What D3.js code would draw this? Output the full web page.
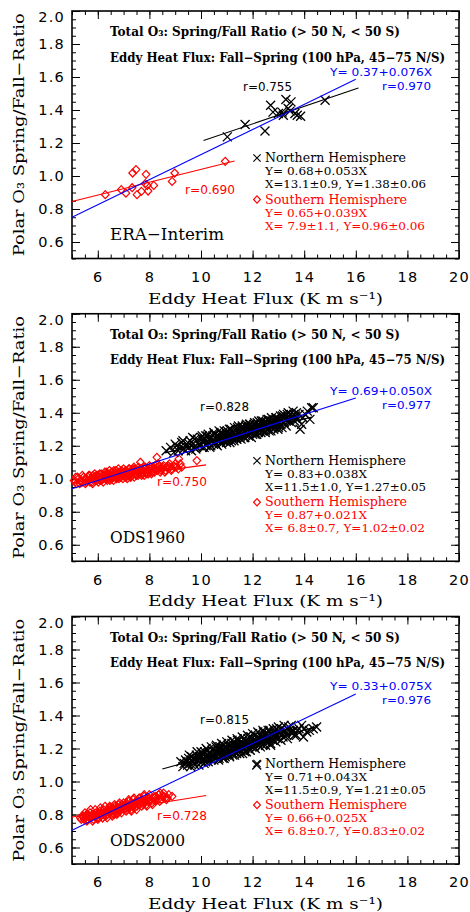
<!DOCTYPE html>
<html>
<head>
<meta charset="utf-8">
<script src="https://cdn.jsdelivr.net/npm/d3@7"></script>
<style>
  body { margin: 0; background: #fff; }
  svg { display: block; }
</style>
</head>
<body>
<div id="container"></div>
<script>
/* CONSTANTS AND GLOBALS */
const width = 470,
  height = 912,
  margin = { left: 72, right: 11 },
  panelTop = [11, 313.75, 616.5],
  panelHeight = 247.5;
const blue = "#0000ff", red = "#ff0000";
const serif = "DejaVu Serif", sans = "DejaVu Sans";

/* DATA */
const xTicks = [6, 8, 10, 12, 14, 16, 18, 20];
const yTicks = [0.6, 0.8, 1.0, 1.2, 1.4, 1.6, 1.8, 2.0];
const xDomain = [5, 20], yDomain = [0.5, 2.0];
const panelNames = ["ERA\u2212Interim", "ODS1960", "ODS2000"];

// northern hemisphere (x) and southern hemisphere (diamond) points, [flux, ratio]
const nhEra = [[11.02,1.237],[11.71,1.312],[12.48,1.273],[12.70,1.429],[13.0,1.379],[13.29,1.464],[13.49,1.449],
  [13.19,1.368],[13.45,1.393],[13.64,1.379],[13.73,1.368],[13.86,1.362],[14.81,1.459],[13.38,1.409],[12.79,1.387],[13.14,1.387]];
const shEra = [[6.29,0.887],[6.91,0.917],[7.09,0.896],[7.33,0.929],[7.35,1.018],[7.48,1.039],[7.52,0.887],[7.69,0.907],
  [7.87,1.010],[7.92,0.943],[7.95,0.909],[8.17,0.943],[8.88,0.967],[8.98,1.018],[10.94,1.089],[7.84,0.954]];

const nhOds1960 = [[8.65,1.17],[8.82,1.19],[8.95,1.16],
  [9.05,1.20],[9.12,1.17],[9.25,1.22],[9.33,1.18],[9.45,1.21],
  [9.52,1.19],[9.58,1.23],[9.63,1.17],[9.7,1.21],[9.76,1.24],[9.83,1.19],[9.9,1.22],[9.96,1.20],
  [10.02,1.25],[10.06,1.19],[10.1,1.22],[10.15,1.24],[10.2,1.20],[10.24,1.26],[10.3,1.22],[10.34,1.19],[10.4,1.25],[10.44,1.23],[10.48,1.21],
  [10.52,1.27],[10.55,1.22],[10.6,1.24],[10.63,1.20],[10.68,1.26],[10.72,1.23],[10.76,1.28],[10.8,1.21],[10.84,1.25],[10.88,1.27],[10.92,1.23],[10.96,1.26],[10.99,1.22],
  [11.02,1.29],[11.05,1.24],[11.09,1.27],[11.12,1.22],[11.16,1.30],[11.2,1.25],[11.24,1.28],[11.28,1.23],[11.31,1.26],[11.35,1.29],[11.39,1.24],[11.42,1.31],[11.46,1.27],[11.49,1.25],
  [11.52,1.28],[11.55,1.24],[11.59,1.31],[11.62,1.26],[11.66,1.29],[11.7,1.25],[11.74,1.32],[11.78,1.27],[11.81,1.30],[11.85,1.26],[11.88,1.33],[11.92,1.28],[11.95,1.25],[11.98,1.31],
  [12.02,1.29],[12.06,1.33],[12.1,1.27],[12.14,1.31],[12.18,1.34],[12.22,1.28],[12.26,1.32],[12.3,1.30],[12.34,1.35],[12.38,1.29],[12.42,1.33],[12.46,1.31],[12.49,1.28],
  [12.53,1.34],[12.58,1.30],[12.62,1.36],[12.67,1.32],[12.71,1.29],[12.76,1.35],[12.8,1.33],[12.85,1.31],[12.9,1.37],[12.94,1.33],[12.98,1.30],
  [13.05,1.36],[13.1,1.33],[13.16,1.38],[13.22,1.34],[13.28,1.36],[13.34,1.39],[13.4,1.35],[13.46,1.37],
  [13.55,1.38],[13.57,1.41],[13.62,1.35],[13.7,1.40],[13.84,1.30],[13.9,1.33],
  [14.05,1.39],[14.22,1.36],[14.29,1.43],[14.35,1.43],
  [9.3,1.23],[9.4,1.17],[9.68,1.25],[9.8,1.18],[10.05,1.26],[10.12,1.19],[10.28,1.27],[10.38,1.20],[10.5,1.28],[10.58,1.21],
  [10.7,1.29],[10.78,1.22],[10.9,1.29],[11.0,1.23],[11.1,1.30],[11.18,1.23],[11.3,1.31],[11.37,1.24],[11.45,1.32],[11.5,1.25],
  [11.6,1.32],[11.68,1.25],[11.76,1.33],[11.84,1.26],[11.9,1.33],[12.0,1.27],[12.08,1.34],[12.16,1.27],[12.24,1.35],[12.32,1.28],
  [12.4,1.35],[12.5,1.29],[12.56,1.36],[12.64,1.29],[12.73,1.37],[12.82,1.30],[12.92,1.37],[13.0,1.31],[13.08,1.38],[13.14,1.31],
  [13.2,1.39],[13.3,1.32],[13.38,1.40],[13.5,1.34],[13.6,1.39],[13.75,1.36],
  [9.0,1.21],[9.18,1.19],[9.38,1.20],[9.55,1.21],[9.73,1.19],[9.86,1.24],[10.08,1.23],[10.18,1.26],[10.32,1.24],[10.46,1.26],
  [10.62,1.26],[10.66,1.23],[10.82,1.27],[10.86,1.23],[10.97,1.28],[11.07,1.25],[11.14,1.27],[11.26,1.25],[11.33,1.27],[11.44,1.29],
  [11.57,1.27],[11.64,1.30],[11.72,1.28],[11.8,1.31],[11.87,1.29],[11.96,1.29],[12.04,1.31],[12.12,1.29],[12.2,1.32],[12.28,1.30],
  [12.36,1.31],[12.44,1.34],[12.52,1.32],[12.6,1.33],[12.68,1.35],[12.78,1.32],[12.87,1.35],[12.96,1.35],[13.03,1.34],[13.12,1.36],
  [13.26,1.38],[13.36,1.37],[13.44,1.39],[13.66,1.38],[13.8,1.39],[13.95,1.37],[14.12,1.41]];
const shOds1960 = [[5.08,0.99],[5.18,0.97],[5.25,1.00],[5.35,0.98],[5.45,1.01],
  [5.52,0.97],[5.56,1.00],[5.6,0.99],[5.65,1.02],[5.7,0.98],[5.75,1.00],[5.8,0.97],[5.85,1.01],[5.9,0.99],[5.95,1.02],
  [6.02,0.98],[6.05,1.01],[6.1,0.99],[6.13,1.03],[6.17,1.00],[6.21,0.98],[6.25,1.02],[6.29,1.00],[6.33,1.04],[6.37,0.99],[6.41,1.01],[6.44,1.03],[6.47,0.99],[6.49,1.02],
  [6.52,1.00],[6.55,1.04],[6.58,1.01],[6.61,0.99],[6.64,1.03],[6.67,1.01],[6.7,1.05],[6.73,1.00],[6.76,1.02],[6.79,1.04],[6.82,1.00],[6.85,1.03],[6.88,1.01],[6.91,1.05],[6.94,1.02],[6.97,1.00],
  [7.02,1.03],[7.05,1.01],[7.08,1.05],[7.11,1.02],[7.14,1.00],[7.17,1.04],[7.2,1.02],[7.23,1.06],[7.26,1.01],[7.29,1.03],[7.32,1.05],[7.35,1.02],[7.38,1.04],[7.41,1.01],[7.44,1.06],[7.47,1.03],
  [7.52,1.05],[7.56,1.02],[7.6,1.04],[7.65,1.10],[7.68,1.06],[7.72,1.03],[7.76,1.05],[7.8,1.02],[7.84,1.07],[7.88,1.04],[7.92,1.06],[7.96,1.03],[7.99,1.05],
  [8.04,1.07],[8.1,1.04],[8.16,1.06],[8.22,1.08],[8.29,1.13],[8.3,1.05],[8.36,1.07],[8.42,1.04],[8.48,1.06],
  [8.55,1.08],[8.62,1.05],[8.7,1.07],[8.78,1.09],[8.86,1.06],[8.94,1.08],
  [9.05,1.07],[9.14,1.12],[9.2,1.09],[9.84,1.11],
  [5.15,1.01],[5.3,0.97],[5.4,1.02],[5.55,0.98],[5.68,1.02],[5.78,0.98],[5.88,1.03],[5.98,0.99],[6.07,1.03],[6.15,0.99],
  [6.27,1.04],[6.35,1.00],[6.45,1.05],[6.54,1.00],[6.62,1.05],[6.7,1.01],[6.8,1.06],[6.9,1.01],[7.0,1.06],[7.1,1.01],
  [7.2,1.06],[7.28,1.01],[7.4,1.07],[7.5,1.02],[7.58,1.07],[7.7,1.02],[7.78,1.07],[7.9,1.03],[8.0,1.08],[8.08,1.03],
  [8.2,1.04],[8.32,1.09],[8.45,1.05],[8.6,1.04],[8.72,1.08],[8.85,1.05],[9.0,1.09],[9.12,1.06],
  [5.12,0.98],[5.22,1.01],[5.33,0.99],[5.42,0.98],[5.5,1.00],[5.62,1.01],[5.72,1.00],[5.82,1.02],[5.92,1.00],[6.0,1.02],
  [6.08,1.00],[6.19,1.02],[6.3,1.02],[6.39,1.03],[6.5,1.01],[6.6,1.03],[6.69,1.03],[6.78,1.01],[6.87,1.04],[6.96,1.03],
  [7.04,1.04],[7.13,1.03],[7.22,1.04],[7.31,1.03],[7.37,1.06],[7.46,1.05],[7.55,1.04],[7.63,1.06],[7.74,1.04],[7.82,1.06],
  [7.94,1.05],[8.02,1.06],[8.13,1.07],[8.25,1.06],[8.38,1.08],[8.52,1.07],[8.66,1.07],[8.8,1.07],[8.98,1.07],[9.25,1.07]];

const nhOds2000 = [[9.22,1.12],[9.3,1.09],[9.4,1.13],[9.48,1.10],
  [9.52,1.14],[9.58,1.11],[9.64,1.15],[9.7,1.12],[9.76,1.10],[9.82,1.16],[9.88,1.13],[9.95,1.15],
  [10.02,1.12],[10.06,1.17],[10.1,1.14],[10.14,1.18],[10.18,1.12],[10.22,1.16],[10.26,1.19],[10.3,1.14],[10.34,1.17],[10.39,1.13],[10.43,1.19],[10.47,1.16],
  [10.52,1.14],[10.55,1.18],[10.58,1.21],[10.62,1.15],[10.65,1.19],[10.68,1.13],[10.72,1.17],[10.75,1.21],[10.78,1.16],[10.82,1.19],[10.85,1.14],[10.88,1.22],[10.91,1.18],[10.94,1.15],[10.97,1.20],
  [11.02,1.17],[11.05,1.22],[11.08,1.19],[11.11,1.15],[11.14,1.21],[11.17,1.18],[11.2,1.23],[11.23,1.16],[11.26,1.20],[11.29,1.24],[11.32,1.18],[11.35,1.22],[11.38,1.17],[11.41,1.25],[11.44,1.20],[11.47,1.22],
  [11.52,1.19],[11.55,1.24],[11.58,1.21],[11.61,1.17],[11.64,1.23],[11.67,1.26],[11.7,1.20],[11.73,1.24],[11.76,1.18],[11.79,1.22],[11.82,1.26],[11.85,1.21],[11.88,1.24],[11.91,1.19],[11.94,1.27],[11.97,1.23],
  [12.03,1.25],[12.06,1.21],[12.1,1.28],[12.13,1.23],[12.16,1.10],[12.2,1.26],[12.24,1.22],[12.27,1.29],[12.31,1.24],[12.35,1.27],[12.39,1.22],[12.42,1.30],[12.45,1.25],[12.48,1.28],
  [12.53,1.24],[12.57,1.29],[12.61,1.26],[12.66,1.31],[12.7,1.23],[12.74,1.28],[12.79,1.25],[12.84,1.30],[12.88,1.27],[12.93,1.32],[12.97,1.26],
  [13.05,1.29],[13.12,1.32],[13.18,1.27],[13.25,1.31],[13.32,1.28],[13.4,1.33],[13.46,1.30],
  [13.58,1.31],[13.7,1.28],[13.9,1.34],[13.97,1.27],
  [14.1,1.30],[14.35,1.32],[14.48,1.33],
  [9.55,1.16],[9.6,1.09],[9.85,1.18],[9.92,1.10],[10.0,1.18],[10.12,1.11],[10.2,1.20],[10.28,1.12],[10.4,1.21],[10.5,1.13],
  [10.6,1.22],[10.7,1.14],[10.8,1.23],[10.9,1.14],[11.0,1.24],[11.1,1.16],[11.2,1.25],[11.3,1.16],[11.4,1.26],[11.5,1.17],
  [11.6,1.27],[11.7,1.18],[11.8,1.28],[11.9,1.19],[12.0,1.29],[12.1,1.20],[12.2,1.30],[12.3,1.21],[12.4,1.31],[12.5,1.22],
  [12.6,1.31],[12.7,1.22],[12.8,1.32],[12.9,1.24],[13.0,1.33],[13.1,1.25],[13.22,1.34],[13.35,1.26],[13.5,1.34],[13.62,1.28],[13.8,1.32],
  [9.35,1.11],[9.45,1.12],[9.62,1.13],[9.74,1.14],[9.86,1.15],[9.98,1.14],[10.08,1.16],[10.16,1.15],[10.24,1.14],[10.32,1.17],
  [10.44,1.16],[10.54,1.16],[10.6,1.18],[10.7,1.19],[10.76,1.18],[10.86,1.20],[10.93,1.17],[11.04,1.20],[11.12,1.19],[11.22,1.21],
  [11.28,1.19],[11.36,1.20],[11.46,1.19],[11.54,1.22],[11.63,1.20],[11.72,1.22],[11.78,1.24],[11.86,1.23],[11.96,1.21],[12.04,1.23],
  [12.12,1.25],[12.18,1.24],[12.26,1.26],[12.36,1.25],[12.44,1.27],[12.55,1.27],[12.64,1.28],[12.72,1.26],[12.82,1.28],[12.9,1.29],
  [13.02,1.30],[13.14,1.29],[13.28,1.30],[13.42,1.31],[13.55,1.30],[13.75,1.31],[14.0,1.32],[14.2,1.31]];
const shOds2000 = [[5.32,0.78],[5.4,0.79],[5.47,0.77],
  [5.52,0.78],[5.56,0.80],[5.6,0.77],[5.65,0.79],[5.7,0.81],[5.74,0.78],[5.78,0.80],[5.83,0.77],[5.88,0.79],[5.93,0.81],[5.97,0.78],
  [6.01,0.80],[6.04,0.78],[6.08,0.82],[6.11,0.79],[6.15,0.81],[6.19,0.78],[6.22,0.83],[6.26,0.80],[6.3,0.79],[6.34,0.82],[6.38,0.80],[6.42,0.82],[6.45,0.84],[6.49,0.81],
  [6.52,0.82],[6.55,0.80],[6.58,0.84],[6.61,0.82],[6.64,0.80],[6.67,0.85],[6.7,0.82],[6.73,0.84],[6.76,0.81],[6.79,0.83],[6.82,0.86],[6.85,0.82],[6.88,0.84],[6.91,0.83],[6.94,0.86],[6.97,0.84],
  [7.02,0.83],[7.05,0.86],[7.08,0.84],[7.11,0.87],[7.14,0.83],[7.17,0.85],[7.2,0.88],[7.23,0.84],[7.26,0.86],[7.29,0.83],[7.32,0.87],[7.35,0.85],[7.38,0.89],[7.42,0.84],[7.45,0.86],[7.48,0.88],
  [7.52,0.85],[7.56,0.88],[7.6,0.86],[7.64,0.90],[7.68,0.87],[7.72,0.89],[7.76,0.86],[7.8,0.91],[7.84,0.88],[7.88,0.86],[7.92,0.90],[7.96,0.88],
  [8.04,0.89],[8.1,0.87],[8.17,0.91],[8.24,0.88],[8.3,0.90],[8.36,0.92],[8.42,0.93],[8.47,0.89],
  [8.56,0.91],[8.66,0.89],[8.75,0.92],[8.88,0.91],
  [5.5,0.81],[5.58,0.76],[5.72,0.83],[5.8,0.76],[5.9,0.83],[6.0,0.77],[6.1,0.84],[6.18,0.78],[6.28,0.85],[6.36,0.78],
  [6.46,0.85],[6.56,0.79],[6.65,0.86],[6.74,0.80],[6.84,0.87],[6.92,0.81],[7.0,0.87],[7.1,0.82],[7.2,0.89],[7.3,0.82],
  [7.4,0.90],[7.5,0.83],[7.6,0.90],[7.7,0.85],[7.8,0.92],[7.9,0.85],[8.0,0.92],[8.12,0.86],[8.25,0.91],[8.4,0.88],
  [8.55,0.93],[8.62,0.90],
  [5.36,0.77],[5.44,0.79],[5.54,0.79],[5.62,0.80],[5.68,0.78],[5.76,0.79],[5.86,0.80],[5.95,0.80],[6.06,0.80],[6.13,0.81],
  [6.24,0.81],[6.32,0.81],[6.4,0.83],[6.48,0.83],[6.6,0.83],[6.69,0.83],[6.78,0.84],[6.86,0.84],[6.96,0.85],[7.06,0.85],
  [7.15,0.86],[7.25,0.85],[7.34,0.86],[7.44,0.87],[7.54,0.87],[7.62,0.88],[7.74,0.88],[7.86,0.89],[7.98,0.90],[8.08,0.89],
  [8.2,0.90],[8.33,0.89],[8.5,0.91],[8.7,0.90]];

const nhPoints = [nhEra, nhOds1960, nhOds2000];
const shPoints = [shEra, shOds1960, shOds2000];

// regression lines: [intercept, slope] and the x range they are drawn over
const allFit = [[0.37, 0.076], [0.69, 0.050], [0.33, 0.075]];
const allFitRange = [[5, 16], [5, 16], [5, 16]];
const nhFit = [[0.68, 0.053], [0.83, 0.038], [0.71, 0.043]];
const nhFitRange = [[10.1, 16.1], [8.6, 14.3], [8.5, 14.4]];
const shFit = [[0.65, 0.039], [0.87, 0.021], [0.66, 0.025]];
const shFitRange = [[5, 11.3], [5, 10.2], [5, 10.2]];

const allFitText = ["Y= 0.37+0.076X", "Y= 0.69+0.050X", "Y= 0.33+0.075X"];
const rAll = ["r=0.970", "r=0.977", "r=0.976"];
const rNh = ["r=0.755", "r=0.828", "r=0.815"];
const rSh = ["r=0.690", "r=0.750", "r=0.728"];
const nhFitText = ["Y= 0.68+0.053X", "Y= 0.83+0.038X", "Y= 0.71+0.043X"];
const nhMeanText = ["X=13.1\u00b10.9, Y=1.38\u00b10.06", "X=11.5\u00b11.0, Y=1.27\u00b10.05", "X=11.5\u00b10.9, Y=1.21\u00b10.05"];
const shFitText = ["Y= 0.65+0.039X", "Y= 0.87+0.021X", "Y= 0.66+0.025X"];
const shMeanText = ["X= 7.9\u00b11.1, Y=0.96\u00b10.06", "X= 6.8\u00b10.7, Y=1.02\u00b10.02", "X= 6.8\u00b10.7, Y=0.83\u00b10.02"];

// label placement inside each panel (px from panel top)
const labelPos = [
  { blueY: 61, blueR: 75, nhR: [243, 75], shR: [185, 178] },
  { blueY: 78, blueR: 92, nhR: [200, 93], shR: [157, 168] },
  { blueY: 70, blueR: 83.5, nhR: [200, 102.5], shR: [157, 198.5] }
];

const crossPath = "M-4.5,-4.5L4.5,4.5M-4.5,4.5L4.5,-4.5";
const diamondPath = "M0,-4L3.8,0L0,4L-3.8,0Z";

let svg = d3.select("#container")
  .append("svg")
  .attr("width", width)
  .attr("height", height);

function addText(g, x, y, str, opt) {
  const t = g.append("text")
    .attr("x", x)
    .attr("y", y)
    .attr("dominant-baseline", "central")
    .attr("font-family", opt.font || serif)
    .attr("font-size", opt.size || 12)
    .attr("fill", opt.color || "#000")
    .attr("text-anchor", opt.anchor || "start")
    .text(str);
  if (opt.len) t.attr("textLength", opt.len).attr("lengthAdjust", "spacingAndGlyphs");
  if (opt.weight) t.attr("font-weight", opt.weight);
  return t;
}

function drawPanel(i) {
  const top = panelTop[i];
  const bottom = top + panelHeight;
  const xScale = d3.scaleLinear().domain(xDomain).range([margin.left, width - margin.right]);
  const yScale = d3.scaleLinear().domain(yDomain).range([bottom, top]);
  const g = svg.append("g").attr("class", "panel");

  // + AXES (ticks point inward on all four sides)
  const xMinor = d3.range(5, 20.01, 0.5);
  const yMinor = d3.range(0.5, 2.001, 0.05);
  const axes = [
    [d3.axisBottom(xScale), `translate(0,${bottom})`, xMinor, xTicks],
    [d3.axisTop(xScale), `translate(0,${top})`, xMinor, xTicks],
    [d3.axisLeft(yScale), `translate(${margin.left},0)`, yMinor, yTicks],
    [d3.axisRight(yScale), `translate(${width - margin.right},0)`, yMinor, yTicks]
  ];
  axes.forEach(([ax, tr, minor, major]) => {
    g.append("g").attr("transform", tr)
      .call(ax.tickValues(minor).tickSize(-4).tickFormat(""))
      .call(s => s.select(".domain").remove());
    g.append("g").attr("transform", tr)
      .call(ax.tickValues(major).tickSize(-8).tickFormat(""))
      .call(s => s.select(".domain").remove());
  });
  g.selectAll(".tick line").attr("stroke", "#000").attr("stroke-width", 1);

  const xLab = g.append("g").attr("transform", `translate(0,${bottom})`)
    .call(d3.axisBottom(xScale).tickValues(xTicks).tickSize(0).tickPadding(13).tickFormat(d3.format("d")));
  xLab.select(".domain").remove();
  const yLab = g.append("g").attr("transform", `translate(${margin.left},0)`)
    .call(d3.axisLeft(yScale).tickValues(yTicks).tickSize(0).tickPadding(7).tickFormat(d3.format(".1f")));
  yLab.select(".domain").remove();
  yLab.selectAll(".tick").filter(d => d === 2.0).select("text").attr("dy", "0.75em");
  [xLab, yLab].forEach(s => s.selectAll("text")
    .attr("font-family", sans).attr("font-size", 14.5).attr("letter-spacing", 1.2).attr("fill", "#000"));

  // frame
  g.append("rect")
    .attr("x", margin.left).attr("y", top)
    .attr("width", width - margin.right - margin.left).attr("height", panelHeight)
    .attr("fill", "none").attr("stroke", "#000").attr("stroke-width", 1.6);

  // axis titles
  addText(g, (margin.left + width - margin.right) / 2, bottom + 40, "Eddy Heat Flux (K m s\u207b\u00b9)",
    { anchor: "middle", size: 15.5, len: 235 });
  addText(g, 0, 0, "Polar O\u2083 Spring/Fall\u2212Ratio", { anchor: "middle", size: 15.5, len: 243 })
    .attr("transform", `translate(19,${top + panelHeight / 2}) rotate(-90)`);

  // + POINTS
  g.append("g").selectAll("path")
    .data(shPoints[i])
    .join("path")
    .attr("d", diamondPath)
    .attr("transform", d => `translate(${xScale(d[0])},${yScale(d[1])})`)
    .attr("fill", "none").attr("stroke", red).attr("stroke-width", 1.2);
  g.append("g").selectAll("path")
    .data(nhPoints[i])
    .join("path")
    .attr("d", crossPath)
    .attr("transform", d => `translate(${xScale(d[0])},${yScale(d[1])})`)
    .attr("fill", "none").attr("stroke", "#000").attr("stroke-width", 1.3);

  // + FIT LINES
  const line = d3.line().x(d => xScale(d[0])).y(d => yScale(d[1]));
  [[shFit, shFitRange, red], [nhFit, nhFitRange, "#000"], [allFit, allFitRange, blue]].forEach(([fit, rng, col]) => {
    const [a, b] = fit[i];
    g.append("path")
      .datum(rng[i].map(x => [x, a + b * x]))
      .attr("d", line)
      .attr("fill", "none").attr("stroke", col).attr("stroke-width", 1.1);
  });

  // + TEXT
  const p = labelPos[i];
  addText(g, 110, top + 21, "Total O\u2083: Spring/Fall Ratio (> 50 N, < 50 S)", { size: 12, len: 290, weight: "bold" });
  addText(g, 110, top + 46.5, "Eddy Heat Flux: Fall\u2212Spring (100 hPa, 45\u221275 N/S)", { size: 12, len: 335, weight: "bold" });
  addText(g, 432, top + p.blueY, allFitText[i], { font: sans, size: 11, color: blue, anchor: "end", len: 102 });
  addText(g, 431, top + p.blueR, rAll[i], { font: sans, size: 11, color: blue, anchor: "end", len: 49 });
  addText(g, p.nhR[0], top + p.nhR[1], rNh[i], { font: sans, size: 12.5, len: 49 });
  addText(g, p.shR[0], top + p.shR[1], rSh[i], { font: sans, size: 12.5, color: red, len: 50 });

  // legend, lines spaced so their boxes do not collide
  g.append("path").attr("d", crossPath).attr("transform", `translate(257,${top + 147}) scale(0.8)`)
    .attr("stroke", "#000").attr("stroke-width", 1.5);
  addText(g, 265, top + 146.5, "Northern Hemisphere", { size: 13, len: 141 });
  addText(g, 265, top + 160.5, nhFitText[i], { size: 11, len: 102 });
  addText(g, 265, top + 173.5, nhMeanText[i], { size: 11, len: 161 });
  g.append("path").attr("d", diamondPath).attr("transform", `translate(257,${top + 188.5}) scale(0.9)`)
    .attr("fill", "none").attr("stroke", red).attr("stroke-width", 1.3);
  addText(g, 265, top + 188, "Southern Hemisphere", { size: 13, color: red, len: 142 });
  addText(g, 265, top + 202, shFitText[i], { size: 11, color: red, len: 102 });
  addText(g, 265, top + 215, shMeanText[i], { size: 11, color: red, len: 160 });

  addText(g, 110, top + 223, panelNames[i], { size: 17, len: i === 0 ? 114 : 75 });
}

[0, 1, 2].forEach(drawPanel);
</script>
</body>
</html>
